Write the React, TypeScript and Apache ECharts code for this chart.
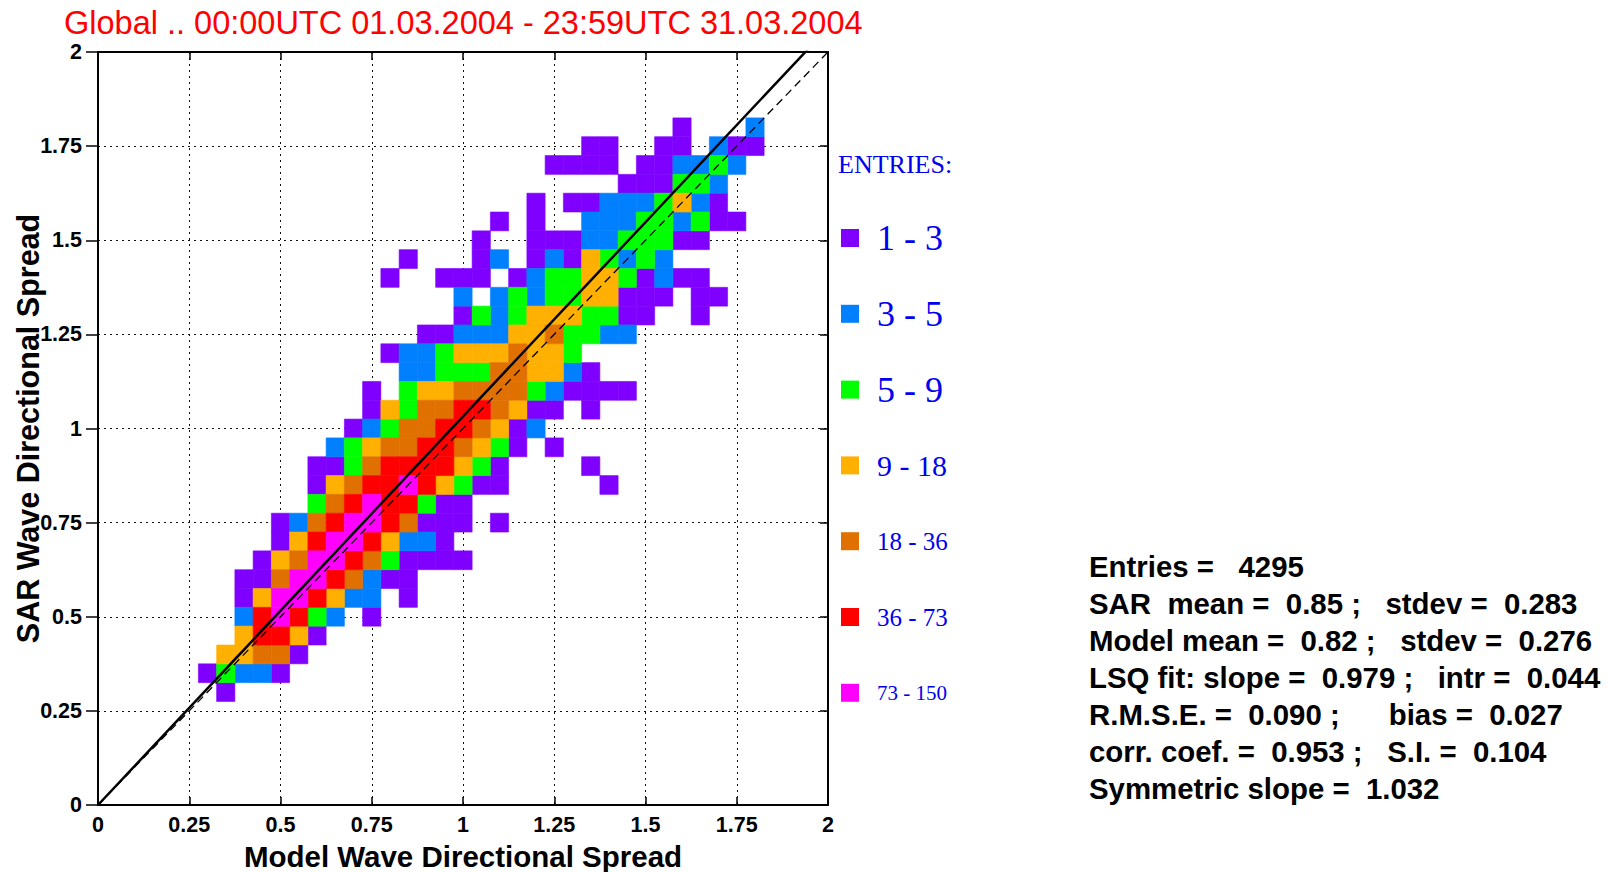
import React, { useEffect, useRef } from "react";
import * as echarts from "echarts";

// ---------- texts ----------
const titleText = "Global .. 00:00UTC 01.03.2004 - 23:59UTC 31.03.2004";
const xAxisTitle = "Model Wave Directional Spread";
const yAxisTitle = "SAR Wave Directional Spread";
const legendTitle = "ENTRIES:";
const levelLabels = ["1 - 3", "3 - 5", "5 - 9", "9 - 18", "18 - 36", "36 - 73", "73 - 150"];
const levelColors = ["#8000ff", "#0080ff", "#00ff00", "#ffb000", "#e07000", "#ff0000", "#ff00ff"];
const statsLines = [
  "Entries =   4295",
  "SAR  mean =  0.85 ;   stdev =  0.283",
  "Model mean =  0.82 ;   stdev =  0.276",
  "LSQ fit: slope =  0.979 ;   intr =  0.044",
  "R.M.S.E. =  0.090 ;      bias =  0.027",
  "corr. coef. =  0.953 ;   S.I. =  0.104",
  "Symmetric slope =  1.032",
];

// ---------- axes ----------
const axisMin = 0;
const axisMax = 2;
const tickStep = 0.25;
const binWidth = 0.05;
const symmetricSlope = 1.032;
const diagonalSlope = 1;

// ---------- cells (bin centres [model, SAR]) per entry class ----------
const cells1to3: number[][] = [
  [0.35, 0.3],
  [0.3, 0.35], [0.5, 0.35],
  [0.55, 0.4],
  [0.6, 0.45],
  [0.75, 0.5],
  [0.4, 0.55], [0.85, 0.55],
  [0.4, 0.6], [0.45, 0.6], [0.8, 0.6], [0.85, 0.6],
  [0.45, 0.65], [0.85, 0.65], [0.9, 0.65], [0.95, 0.65], [1.0, 0.65],
  [0.5, 0.7], [0.95, 0.7],
  [0.5, 0.75], [0.9, 0.75], [0.95, 0.75], [1.0, 0.75], [1.1, 0.75],
  [0.95, 0.8], [1.0, 0.8],
  [0.6, 0.85], [1.05, 0.85], [1.1, 0.85], [1.4, 0.85],
  [0.6, 0.9], [0.65, 0.9], [1.1, 0.9], [1.35, 0.9],
  [1.15, 0.95], [1.25, 0.95],
  [0.7, 1.0], [1.15, 1.0],
  [0.75, 1.05], [1.2, 1.05], [1.25, 1.05], [1.35, 1.05],
  [0.75, 1.1], [1.3, 1.1], [1.35, 1.1], [1.4, 1.1], [1.45, 1.1],
  [1.35, 1.15],
  [0.8, 1.2],
  [0.9, 1.25], [0.95, 1.25],
  [1.0, 1.3], [1.45, 1.3], [1.5, 1.3], [1.65, 1.3],
  [1.45, 1.35], [1.5, 1.35], [1.55, 1.35], [1.65, 1.35], [1.7, 1.35],
  [0.8, 1.4], [0.95, 1.4], [1.0, 1.4], [1.05, 1.4], [1.15, 1.4], [1.5, 1.4], [1.6, 1.4], [1.65, 1.4],
  [0.85, 1.45], [1.05, 1.45], [1.2, 1.45], [1.3, 1.45],
  [1.05, 1.5], [1.2, 1.5], [1.25, 1.5], [1.3, 1.5], [1.6, 1.5], [1.65, 1.5],
  [1.1, 1.55], [1.2, 1.55], [1.7, 1.55], [1.75, 1.55],
  [1.2, 1.6], [1.3, 1.6], [1.35, 1.6], [1.7, 1.6],
  [1.45, 1.65], [1.5, 1.65], [1.55, 1.65],
  [1.25, 1.7], [1.3, 1.7], [1.35, 1.7], [1.4, 1.7], [1.5, 1.7], [1.55, 1.7],
  [1.35, 1.75], [1.4, 1.75], [1.55, 1.75], [1.6, 1.75], [1.75, 1.75], [1.8, 1.75],
  [1.6, 1.8],
];
const cells3to5: number[][] = [
  [0.4, 0.35], [0.45, 0.35],
  [0.4, 0.5], [0.65, 0.5],
  [0.7, 0.55], [0.75, 0.55],
  [0.75, 0.6],
  [0.85, 0.7], [0.9, 0.7],
  [0.55, 0.75],
  [0.65, 0.95],
  [0.75, 1.0], [1.2, 1.0],
  [1.25, 1.1],
  [0.85, 1.15], [0.9, 1.15], [1.3, 1.15],
  [0.85, 1.2], [0.9, 1.2],
  [1.0, 1.25], [1.05, 1.25], [1.1, 1.25], [1.4, 1.25], [1.45, 1.25],
  [1.1, 1.3],
  [1.0, 1.35], [1.1, 1.35], [1.2, 1.35],
  [1.2, 1.4], [1.55, 1.4],
  [1.1, 1.45], [1.25, 1.45], [1.45, 1.45], [1.55, 1.45],
  [1.35, 1.5], [1.4, 1.5],
  [1.35, 1.55], [1.4, 1.55], [1.45, 1.55], [1.6, 1.55],
  [1.4, 1.6], [1.45, 1.6], [1.5, 1.6], [1.65, 1.6],
  [1.7, 1.65],
  [1.6, 1.7], [1.65, 1.7], [1.75, 1.7],
  [1.7, 1.75],
  [1.8, 1.8],
];
const cells5to9: number[][] = [
  [0.35, 0.35],
  [0.6, 0.5],
  [0.8, 0.65],
  [0.6, 0.8], [0.9, 0.8],
  [1.0, 0.85],
  [0.7, 0.9], [1.05, 0.9],
  [0.7, 0.95], [1.1, 0.95],
  [0.8, 1.0],
  [0.85, 1.05],
  [0.85, 1.1], [1.2, 1.1],
  [0.95, 1.15], [1.0, 1.15], [1.05, 1.15],
  [0.95, 1.2], [1.3, 1.2],
  [1.3, 1.25], [1.35, 1.25],
  [1.05, 1.3], [1.15, 1.3], [1.35, 1.3], [1.4, 1.3],
  [1.15, 1.35], [1.25, 1.35], [1.3, 1.35],
  [1.25, 1.4], [1.3, 1.4], [1.45, 1.4],
  [1.4, 1.45], [1.5, 1.45],
  [1.45, 1.5], [1.5, 1.5], [1.55, 1.5],
  [1.5, 1.55], [1.55, 1.55], [1.65, 1.55],
  [1.55, 1.6],
  [1.6, 1.65], [1.65, 1.65],
  [1.7, 1.7],
];
const cells9to18: number[][] = [
  [0.35, 0.4], [0.4, 0.4],
  [0.4, 0.45], [0.55, 0.45],
  [0.45, 0.55], [0.65, 0.55],
  [0.5, 0.65],
  [0.55, 0.7], [0.8, 0.7],
  [0.65, 0.85], [0.95, 0.85],
  [1.0, 0.9],
  [0.75, 0.95], [1.05, 0.95],
  [1.1, 1.0],
  [0.8, 1.05], [1.15, 1.05],
  [0.9, 1.1], [0.95, 1.1],
  [1.2, 1.15], [1.25, 1.15],
  [1.0, 1.2], [1.05, 1.2], [1.1, 1.2], [1.2, 1.2], [1.25, 1.2],
  [1.15, 1.25], [1.2, 1.25],
  [1.2, 1.3], [1.25, 1.3], [1.3, 1.3],
  [1.35, 1.35], [1.4, 1.35],
  [1.35, 1.4], [1.4, 1.4],
  [1.35, 1.45],
  [1.6, 1.6],
];
const cells18to36: number[][] = [
  [0.45, 0.4], [0.5, 0.4],
  [0.5, 0.6], [0.7, 0.6],
  [0.55, 0.65], [0.75, 0.65],
  [0.6, 0.75], [0.85, 0.75],
  [0.65, 0.8],
  [0.7, 0.85],
  [0.75, 0.9],
  [0.8, 0.95], [0.85, 0.95], [1.0, 0.95],
  [0.85, 1.0], [0.9, 1.0], [1.05, 1.0],
  [0.9, 1.05], [0.95, 1.05], [1.1, 1.05],
  [1.0, 1.1], [1.05, 1.1], [1.1, 1.1], [1.15, 1.1],
  [1.1, 1.15], [1.15, 1.15],
  [1.15, 1.2],
  [1.25, 1.25],
];
const cells36to73: number[][] = [
  [0.45, 0.45], [0.5, 0.45],
  [0.45, 0.5], [0.55, 0.5],
  [0.6, 0.55],
  [0.65, 0.6],
  [0.7, 0.65],
  [0.6, 0.7], [0.75, 0.7],
  [0.65, 0.75], [0.8, 0.75],
  [0.7, 0.8], [0.8, 0.8], [0.85, 0.8],
  [0.75, 0.85], [0.8, 0.85], [0.9, 0.85],
  [0.8, 0.9], [0.85, 0.9], [0.9, 0.9], [0.95, 0.9],
  [0.9, 0.95], [0.95, 0.95],
  [0.95, 1.0], [1.0, 1.0],
  [1.0, 1.05], [1.05, 1.05],
];
const cells73to150: number[][] = [
  [0.5, 0.5],
  [0.5, 0.55], [0.55, 0.55],
  [0.55, 0.6], [0.6, 0.6],
  [0.6, 0.65], [0.65, 0.65],
  [0.65, 0.7], [0.7, 0.7],
  [0.7, 0.75], [0.75, 0.75],
  [0.75, 0.8],
  [0.85, 0.85],
];
const levelCells = [cells1to3, cells3to5, cells5to9, cells9to18, cells18to36, cells36to73, cells73to150];

// ---------- layout / style ----------
const W = 1609;
const H = 872;
const GRID = { left: 98, top: 52, width: 730, height: 753 };
const SANS = "'Liberation Sans', Arial, Helvetica, sans-serif";
const SERIF = "'Liberation Serif', 'Times New Roman', 'DejaVu Serif', serif";
const LEGEND_TEXT_COLOR = "#0000ee";
const legendFontSizes = [36, 36, 36, 30, 25, 25, 21];
const legendTop = 238;
const legendStep = 75.8;
const statsTop = 566;
const statsStep = 37;

function txt(x: number, y: number, text: string, style: any, extra: any = {}) {
  return {
    type: "text",
    x,
    y,
    silent: true,
    ...extra,
    style: {
      text,
      align: style.align || "left",
      verticalAlign: "middle",
      textAlign: style.align || "left",
      textVerticalAlign: "middle",
      ...style,
    },
  };
}

export default function App() {
  const ref = useRef<HTMLDivElement>(null);

  useEffect(() => {
    document.body.style.margin = "0";
    if (!ref.current) return;
    const chart = echarts.init(ref.current, undefined, { renderer: "svg" });

    const half = binWidth / 2;
    const cellSeries = levelCells.map((cells, k) => ({
      type: "custom",
      name: levelLabels[k],
      xAxisIndex: 0,
      yAxisIndex: 0,
      silent: true,
      z: 2,
      encode: { x: 0, y: 1 },
      data: cells,
      renderItem: (params: any, api: any) => {
        const cx = api.value(0);
        const cy = api.value(1);
        const p1 = api.coord([cx - half, cy + half]);
        const p2 = api.coord([cx + half, cy - half]);
        return {
          type: "rect",
          shape: { x: p1[0], y: p1[1], width: p2[0] - p1[0], height: p2[1] - p1[1] },
          style: { fill: levelColors[k], stroke: levelColors[k], lineWidth: 0.6 },
        };
      },
    }));

    const axisCommon = {
      type: "value",
      min: axisMin,
      max: axisMax,
      interval: tickStep,
    };
    const lineStyleAxis = { color: "#000", width: 2 };
    const labelStyle = { color: "#000", fontSize: 21.5, fontWeight: "bold", fontFamily: SANS };
    const splitStyle = { show: true, lineStyle: { color: "#111", width: 1, type: [2, 4] } };

    const graphic: any[] = [];
    graphic.push(txt(64, 23, titleText, { fill: "#ff0000", fontSize: 32.5, fontFamily: SANS }));
    graphic.push(
      txt(GRID.left + GRID.width / 2, 856, xAxisTitle, {
        fill: "#000",
        fontSize: 29.5,
        fontWeight: "bold",
        fontFamily: SANS,
        align: "center",
      })
    );
    graphic.push(
      txt(28, GRID.top + GRID.height / 2, yAxisTitle, {
        fill: "#000",
        fontSize: 30.5,
        fontWeight: "bold",
        fontFamily: SANS,
        align: "center",
      }, { rotation: Math.PI / 2 })
    );
    graphic.push(txt(838, 164, legendTitle, { fill: LEGEND_TEXT_COLOR, fontSize: 26, fontFamily: SERIF }));
    levelLabels.forEach((label, k) => {
      const cy = legendTop + k * legendStep;
      graphic.push({
        type: "rect",
        silent: true,
        shape: { x: 841, y: cy - 9, width: 18, height: 18 },
        style: { fill: levelColors[k] },
      });
      graphic.push(
        txt(877, cy, label, { fill: LEGEND_TEXT_COLOR, fontSize: legendFontSizes[k], fontFamily: SERIF })
      );
    });
    statsLines.forEach((line, k) => {
      graphic.push(
        txt(1089, statsTop + k * statsStep, line, {
          fill: "#000",
          fontSize: 29.4,
          fontWeight: "bold",
          fontFamily: SANS,
        })
      );
    });

    const option: any = {
      animation: false,
      backgroundColor: "#ffffff",
      grid: { ...GRID, containLabel: false },
      xAxis: [
        {
          ...axisCommon,
          position: "bottom",
          axisLine: { show: true, onZero: false, lineStyle: lineStyleAxis },
          axisTick: { show: true, inside: true, length: 8, lineStyle: { color: "#000", width: 1.5 } },
          axisLabel: { ...labelStyle, margin: 9 },
          splitLine: splitStyle,
        },
        {
          ...axisCommon,
          position: "top",
          axisLine: { show: true, onZero: false, lineStyle: lineStyleAxis },
          axisTick: { show: true, inside: true, length: 8, lineStyle: { color: "#000", width: 1.5 } },
          axisLabel: { show: false },
          splitLine: { show: false },
        },
      ],
      yAxis: [
        {
          ...axisCommon,
          position: "left",
          axisLine: { show: true, onZero: false, lineStyle: lineStyleAxis },
          axisTick: { show: true, inside: false, length: 12, lineStyle: { color: "#000", width: 1.5 } },
          axisLabel: { ...labelStyle, margin: 16 },
          splitLine: splitStyle,
        },
        {
          ...axisCommon,
          position: "right",
          axisLine: { show: true, onZero: false, lineStyle: lineStyleAxis },
          axisTick: { show: true, inside: true, length: 8, lineStyle: { color: "#000", width: 1.5 } },
          axisLabel: { show: false },
          splitLine: { show: false },
        },
      ],
      series: [
        ...cellSeries,
        {
          type: "line",
          name: "diagonal",
          xAxisIndex: 0,
          yAxisIndex: 0,
          silent: true,
          z: 3,
          symbol: "none",
          clip: true,
          data: [
            [axisMin, diagonalSlope * axisMin],
            [axisMax, diagonalSlope * axisMax],
          ],
          lineStyle: { color: "#000", width: 1.3, type: [8, 5] },
        },
        {
          type: "line",
          name: "symmetric fit",
          xAxisIndex: 0,
          yAxisIndex: 0,
          silent: true,
          z: 4,
          symbol: "none",
          clip: true,
          data: [
            [axisMin, symmetricSlope * axisMin],
            [axisMax, symmetricSlope * axisMax],
          ],
          lineStyle: { color: "#000", width: 2.5 },
        },
      ],
      graphic,
    };

    chart.setOption(option);
    return () => {
      chart.dispose();
    };
  }, []);

  return (
    <div
      ref={ref}
      style={{ position: "fixed", left: 0, top: 0, width: W, height: H, background: "#fff" }}
    />
  );
}
